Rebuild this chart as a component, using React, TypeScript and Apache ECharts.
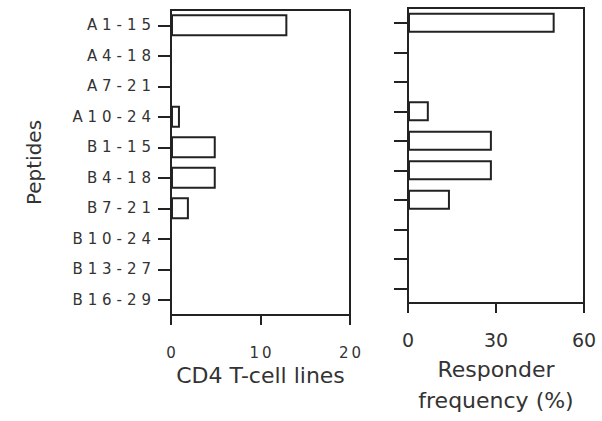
import React, { useEffect, useRef } from "react";
import * as echarts from "echarts";

const categories = ["A 1-15", "A 4-18", "A 7-21", "A 10-24", "B 1-15", "B 4-18", "B 7-21", "B 10-24", "B 13-27", "B 16-29"];
const cd4Lines = [13, 0, 0, 1, 5, 5, 2, 0, 0, 0];
const responderFreq = [50, 0, 0, 7.1, 28.6, 28.6, 14.3, 0, 0, 0];
const leftTitle = "CD4 T-cell lines";
const rightTitle = "Responder\nfrequency (%)";
const yTitle = "Peptides";

const FONT = "DejaVu Sans";
const INK = "#222";
const TEXT = "#333";
// letter-spaced look of the original labels
const trackWide = (s: string) =>
  String(s).split(" ").map((w) => w.split("").join("\u2004")).join(" ");
const trackThin = (s: string) => String(s).split("").join("\u2009");

export default function App() {
  const ref = useRef<HTMLDivElement>(null);
  useEffect(() => {
    if (!ref.current) return;
    const chart = echarts.init(ref.current, null, { renderer: "svg" });
    const barStyle = { color: "#fff", borderColor: INK, borderWidth: 2 };
    chart.setOption({
      animation: false,
      backgroundColor: "#fff",
      grid: [
        { left: 171, top: 10, width: 179, height: 305, show: true, borderColor: INK, borderWidth: 2, backgroundColor: "transparent" },
        { left: 408, top: 8, width: 176, height: 305, show: true, borderColor: INK, borderWidth: 2, backgroundColor: "transparent" },
      ],
      xAxis: [
        {
          gridIndex: 0, type: "value", min: 0, max: 20, interval: 10,
          splitLine: { show: false },
          axisLine: { show: true, lineStyle: { color: INK, width: 2 } },
          axisTick: { show: true, length: 10, lineStyle: { color: INK, width: 2 } },
          axisLabel: { margin: 30, fontFamily: FONT, fontSize: 15, color: TEXT, formatter: (v: number) => trackThin(String(v)) },
          name: leftTitle, nameLocation: "middle", nameGap: 41,
          nameTextStyle: { fontFamily: FONT, fontSize: 22, color: TEXT },
        },
        {
          gridIndex: 1, type: "value", min: 0, max: 60, interval: 30,
          splitLine: { show: false },
          axisLine: { show: true, lineStyle: { color: INK, width: 2 } },
          axisTick: { show: true, length: 10, lineStyle: { color: INK, width: 2 } },
          axisLabel: { margin: 27, fontFamily: FONT, fontSize: 19, color: TEXT },
          name: rightTitle, nameLocation: "middle", nameGap: 48,
          nameTextStyle: { fontFamily: FONT, fontSize: 22, color: TEXT, lineHeight: 31 },
        },
      ],
      yAxis: [
        {
          gridIndex: 0, type: "category", data: categories, inverse: true,
          axisLine: { show: true, lineStyle: { color: INK, width: 2 } },
          axisTick: { show: true, length: 13, alignWithLabel: true, lineStyle: { color: INK, width: 2 } },
          axisLabel: { margin: 20, fontFamily: FONT, fontSize: 15, color: TEXT, formatter: (v: string) => trackWide(v) },
          name: yTitle, nameLocation: "middle", nameGap: 127,
          nameTextStyle: { fontFamily: FONT, fontSize: 20, color: TEXT },
        },
        {
          gridIndex: 1, type: "category", data: categories, inverse: true,
          axisLine: { show: true, lineStyle: { color: INK, width: 2 } },
          axisTick: { show: true, length: 14, alignWithLabel: true, lineStyle: { color: INK, width: 2 } },
          axisLabel: { show: false },
        },
      ],
      series: [
        { type: "bar", xAxisIndex: 0, yAxisIndex: 0, data: cd4Lines, barWidth: "72%", itemStyle: barStyle },
        { type: "bar", xAxisIndex: 1, yAxisIndex: 1, data: responderFreq, barWidth: "68%", itemStyle: barStyle },
      ],
    });
    return () => chart.dispose();
  }, []);
  return <div ref={ref} style={{ width: 602, height: 421, position: "absolute", left: 0, top: 0 }} />;
}
